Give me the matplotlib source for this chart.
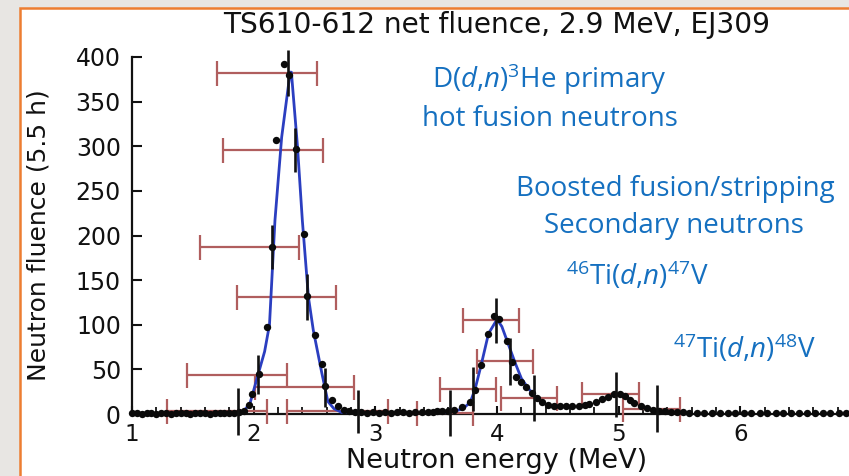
import matplotlib
matplotlib.use("Agg")
import matplotlib.pyplot as plt
from matplotlib.patches import Rectangle
from matplotlib.ticker import MultipleLocator, FixedLocator

# ---------------- data ----------------
title = "TS610-612 net fluence, 2.9 MeV, EJ309"
x_label = "Neutron energy (MeV)"
y_label = "Neutron fluence (5.5 h)"
x_ticks = [1, 2, 3, 4, 5, 6]
y_ticks = [0, 50, 100, 150, 200, 250, 300, 350, 400]

# measured spectrum (black dots)
dot_energy = [
    1.00, 1.04, 1.08, 1.12, 1.16, 1.20, 1.24, 1.28, 1.32, 1.36, 1.40, 1.44,
    1.48, 1.52, 1.56, 1.60, 1.64, 1.68, 1.72, 1.76, 1.80, 1.84, 1.88, 1.92,
    1.96, 1.99, 2.04, 2.11, 2.15, 2.18, 2.25, 2.29, 2.35, 2.41, 2.44, 2.50,
    2.56, 2.59, 2.64, 2.69, 2.74, 2.78, 2.83,
    2.88, 2.93, 2.98, 3.03, 3.08, 3.13, 3.18, 3.23, 3.28, 3.33, 3.38, 3.43,
    3.47, 3.51, 3.55, 3.60, 3.65, 3.71, 3.78, 3.82, 3.87, 3.93, 3.975, 4.02,
    4.08, 4.12, 4.16, 4.20, 4.24, 4.29, 4.33, 4.37, 4.42, 4.47, 4.52, 4.57,
    4.62, 4.67, 4.72, 4.76, 4.81, 4.86, 4.91, 4.96, 5.01, 5.05, 5.09, 5.13,
    5.18, 5.23, 5.28, 5.33, 5.38, 5.43, 5.48, 5.53, 5.58,
    5.64, 5.70, 5.77, 5.83, 5.90, 5.96, 6.03, 6.09, 6.16, 6.22, 6.29, 6.35,
    6.42, 6.48, 6.55, 6.61, 6.68, 6.74, 6.81, 6.87, 6.94,
]
dot_fluence = [
    1, 1, 0, 1, 1, 0, 1, 1, 0, 1, 1, 1,
    0, 1, 1, 1, 0, 1, 1, 1, 1, 1, 2, 3,
    10, 22, 45, 97, 187, 307, 392, 380, 297, 202, 132, 88,
    56, 31, 16, 9, 5, 3, 2,
    2, 1, 2, 1, 2, 1, 2, 2, 1, 2, 2, 2,
    2, 3, 3, 3, 4, 8, 13, 27, 55, 90, 110, 106,
    82, 58, 41, 36, 30, 23, 18, 13, 10, 9, 9, 9,
    9, 9, 10, 11, 14, 17, 19, 22, 22, 20, 16, 12,
    9, 7, 5, 3, 3, 2, 2, 2, 1,
    1, 1, 1, 1, 1, 1, 1, 1, 1, 1, 1, 1,
    1, 1, 1, 1, 1, 1, 1, 1, 1,
]

# fitted curves (blue)
fit1_energy = [1.90, 1.97, 2.04, 2.09, 2.13, 2.175, 2.23, 2.30, 2.31, 2.36,
               2.40, 2.45, 2.49, 2.56, 2.61, 2.66, 2.72, 2.80]
fit1_fluence = [0, 12, 46, 70, 100, 217, 310, 383, 383, 300,
                217, 131, 94, 46, 14, 6, 2, 0]
fit2_energy = [3.55, 3.65, 3.72, 3.78, 3.82, 3.87, 3.93, 4.00, 4.04, 4.08,
               4.15, 4.20, 4.25, 4.30, 4.35]
fit2_fluence = [1, 3, 6, 13, 28, 55, 90, 106, 98, 83,
                57, 40, 30, 22, 15]

# binned (unfolded) points: energy, fluence, asymmetric x-errors, y-error
bin_energy = [1.871, 2.035, 2.150, 2.282, 2.339, 2.438, 2.586, 2.857,
              3.613, 3.802, 3.991, 4.106, 4.303, 4.977, 5.314]
bin_fluence = [3, 44, 187, 382, 296, 131, 30, 3,
               1, 28, 105, 59, 18, 22, 6]
bin_xerr_low = [0.58, 0.58, 0.59, 0.58, 0.59, 0.575, 0.575, 0.58,
                0.27, 0.27, 0.27, 0.27, 0.27, 0.28, 0.28]
bin_xerr_high = [0.24, 0.24, 0.22, 0.24, 0.23, 0.24, 0.24, 0.25,
                 0.19, 0.19, 0.19, 0.19, 0.19, 0.19, 0.19]
bin_yerr = [26, 22, 25, 26, 25, 26, 22, 24,
            26, 25, 25, 26, 26, 25, 26]

label_primary = ["D($\\mathit{d}$,$\\mathit{n}$)$^{3}$He primary",
                 "hot fusion neutrons"]
label_secondary = ["Boosted fusion/stripping", "Secondary neutrons"]
label_ti46 = "$^{46}$Ti($\\mathit{d}$,$\\mathit{n}$)$^{47}$V"
label_ti47 = "$^{47}$Ti($\\mathit{d}$,$\\mathit{n}$)$^{48}$V"

# ---------------- style ----------------
plt.rcParams["font.family"] = ["DejaVu Sans"]
plt.rcParams["mathtext.fontset"] = "custom"
plt.rcParams["mathtext.rm"] = "Open Sans"
plt.rcParams["mathtext.it"] = "Open Sans:italic"
plt.rcParams["mathtext.bf"] = "Open Sans:bold"
plt.rcParams["mathtext.sf"] = "Open Sans"

W, H = 849, 476
fig = plt.figure(figsize=(W / 100, H / 100), dpi=100)
fig.patch.set_facecolor("#e8e6e3")

# slide frame (white area with orange border)
frame = Rectangle((20 / W, -0.2), 1.2, 1 - 8 / H + 0.2, transform=fig.transFigure,
                  facecolor="white", edgecolor="#ed7d31", linewidth=1.8,
                  zorder=-10)
fig.patches.append(frame)

ax = fig.add_axes([132 / W, (H - 414) / H, 730 / W, 357 / H])
ax.set_zorder(1)
ax.set_facecolor("none")
ax.set_xlim(1, 7)
ax.set_ylim(0, 400)

for s in ["top", "right"]:
    ax.spines[s].set_visible(False)
for s in ["left", "bottom"]:
    ax.spines[s].set_linewidth(1.6)
    ax.spines[s].set_color("#111111")

ax.xaxis.set_major_locator(FixedLocator(x_ticks))
ax.xaxis.set_minor_locator(MultipleLocator(0.2))
ax.yaxis.set_major_locator(FixedLocator(y_ticks))
ax.set_xticklabels([str(t) for t in x_ticks])
ax.set_yticklabels([str(t) for t in y_ticks])
ax.tick_params(axis="x", which="major", direction="in", length=6, width=1.5,
               labelsize=16.5, pad=6.5, colors="#111111")
ax.tick_params(axis="x", which="minor", direction="in", length=5, width=1.3,
               colors="#111111")
ax.tick_params(axis="y", which="major", direction="in", length=7, width=1.5,
               labelsize=17, pad=8, colors="#111111")

# red horizontal error bars
ax.errorbar(bin_energy, bin_fluence, xerr=[bin_xerr_low, bin_xerr_high],
            fmt="none", ecolor="#b05e5e", elinewidth=1.6, capsize=9,
            capthick=1.6, zorder=3, clip_on=False)

# fitted curves
ax.plot(fit1_energy, fit1_fluence, color="#2b3ec0", lw=2.0, zorder=4)
ax.plot(fit2_energy, fit2_fluence, color="#2b3ec0", lw=2.0, zorder=4)

# measured dots
ax.plot(dot_energy, dot_fluence, "o", color="#0a0a0a", ms=5.3, mew=0,
        zorder=5, clip_on=False)

# black vertical error bars
ax.errorbar(bin_energy, bin_fluence, yerr=bin_yerr, fmt="none",
            ecolor="#111111", elinewidth=1.9, capsize=0, zorder=6,
            clip_on=False)

ax.set_title(title, fontsize=20.2, color="#111111", y=1.067, pad=0)
ax.set_xlabel(x_label, fontsize=19.5, color="#111111", va="baseline")
ax.xaxis.set_label_coords(0.5, (414 - 467.5) / 357)
ax.set_ylabel(y_label, fontsize=18, color="#111111", va="center")
ax.yaxis.set_label_coords((39 - 132) / 730, 0.5)

blue = "#1570c0"
tkw = dict(transform=fig.transFigure, ha="center", va="baseline", color=blue,
           fontsize=20, family=["Open Sans", "DejaVu Sans"], zorder=5)
fig.text(549 / W, 1 - 88 / H, label_primary[0], **tkw)
fig.text(550 / W, 1 - 126 / H, label_primary[1], **tkw)
fig.text(675 / W, 1 - 196 / H, label_secondary[0], **tkw)
fig.text(674 / W, 1 - 233 / H, label_secondary[1], **tkw)
fig.text(637 / W, 1 - 285 / H, label_ti46, **tkw)
fig.text(744 / W, 1 - 358 / H, label_ti47, **tkw)

fig.savefig("out.png", dpi=100, facecolor=fig.get_facecolor())
